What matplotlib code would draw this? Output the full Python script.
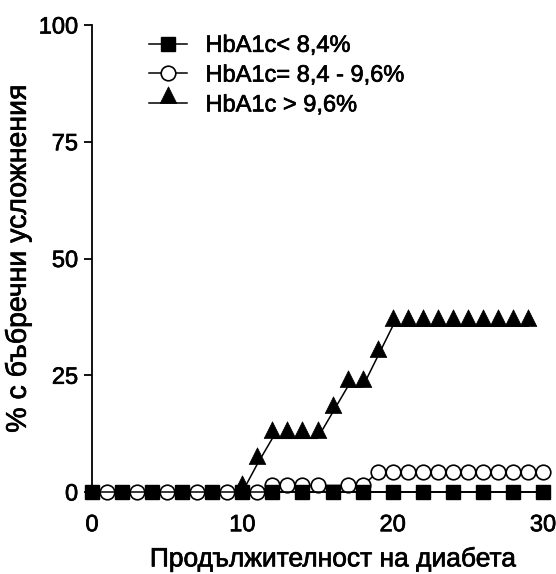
import matplotlib
matplotlib.use('Agg')  # no display
import matplotlib.pyplot as plt
import matplotlib.patheffects as pe
from matplotlib.path import Path

plt.rcParams['font.family'] = ['Liberation Sans', 'DejaVu Sans']

# --- data ---
years_low = [0, 2, 4, 6, 8, 10, 12, 14, 16, 18, 20, 22, 24, 26, 28, 30]
pct_low = [0, 0, 0, 0, 0, 0, 0, 0, 0, 0, 0, 0, 0, 0, 0, 0]

years_mid = [1, 3, 5, 7, 9, 11, 12, 13, 14, 15, 17, 18, 19, 20, 21, 22, 23, 24, 25, 26, 27, 28, 29, 30]
pct_mid = [0, 0, 0, 0, 0, 0, 1.4, 1.4, 1.4, 1.4, 1.4, 1.4, 4.2, 4.2, 4.2, 4.2, 4.2, 4.2, 4.2, 4.2, 4.2, 4.2, 4.2, 4.2]

years_high = [10, 11, 12, 13, 14, 15, 16, 17, 18, 19, 20, 21, 22, 23, 24, 25, 26, 27, 28, 29]
pct_high = [0, 6, 11.5, 11.5, 11.5, 11.5, 17, 22.5, 22.5, 29, 35.5, 35.5, 35.5, 35.5, 35.5, 35.5, 35.5, 35.5, 35.5, 35.5]

labels = ['HbA1c< 8,4%', 'HbA1c= 8,4 - 9,6%', 'HbA1c > 9,6%']
x_ticks = [0, 10, 20, 30]
y_ticks = [0, 25, 50, 75, 100]

# triangle whose base sits on the data point (as in the original)
tri = Path([(-0.5, 0.0), (0.5, 0.0), (0.0, 1.0), (-0.5, 0.0)],
           [Path.MOVETO, Path.LINETO, Path.LINETO, Path.CLOSEPOLY])

# scanned original has slightly heavy text
heavy = [pe.withStroke(linewidth=0.5, foreground='black')]

fig = plt.figure(figsize=(5.56, 5.74), dpi=100)
ax = fig.add_axes([92 / 556, 82 / 574, (543 - 92) / 556, (492 - 25) / 574])

lw = 1.1
ax.plot(years_mid, pct_mid, color='black', lw=lw, marker='o', ms=10.5,
        mfc='white', mec='black', mew=1.2, clip_on=False, zorder=3, label=labels[1])
ax.plot(years_high, pct_high, color='black', lw=lw, marker=tri, ms=24,
        mfc='black', mec='black', mew=0.5, clip_on=False, zorder=4, label=labels[2])
ax.plot(years_low, pct_low, color='black', lw=lw, marker='s', ms=10.5,
        mfc='black', mec='black', clip_on=False, zorder=5, label=labels[0])

ax.set_xlim(0, 30)
ax.set_ylim(0, 100)
ax.set_xticks(x_ticks)
ax.set_yticks(y_ticks)

for side in ['top', 'right']:
    ax.spines[side].set_visible(False)
for side in ['left', 'bottom']:
    ax.spines[side].set_linewidth(1.3)

ax.tick_params(axis='both', direction='out', length=6, width=1.3, labelsize=17)
ax.tick_params(axis='x', pad=10)
ax.tick_params(axis='y', pad=4)

ax.set_xlabel('Продължителност на диабета', fontsize=19, labelpad=8, x=0.535)
ax.set_ylabel('% с бъбречни усложнения', fontsize=20.5, labelpad=5)

handles, lbls = ax.get_legend_handles_labels()
order = [2, 0, 1]
leg = ax.legend([handles[i] for i in order], [lbls[i] for i in order],
                loc='upper left', bbox_to_anchor=(137 / 556, 1 - 23 / 574),
                bbox_transform=fig.transFigure, frameon=False, fontsize=17,
                numpoints=1, handlelength=1.6, handletextpad=0.8,
                labelspacing=0.33, borderpad=0.0)

texts = ax.get_xticklabels() + ax.get_yticklabels() + leg.get_texts()
texts += [ax.xaxis.label, ax.yaxis.label]
for t in texts:
    t.set_path_effects(heavy)

fig.savefig('out.png', dpi=100)
plt.close(fig)
